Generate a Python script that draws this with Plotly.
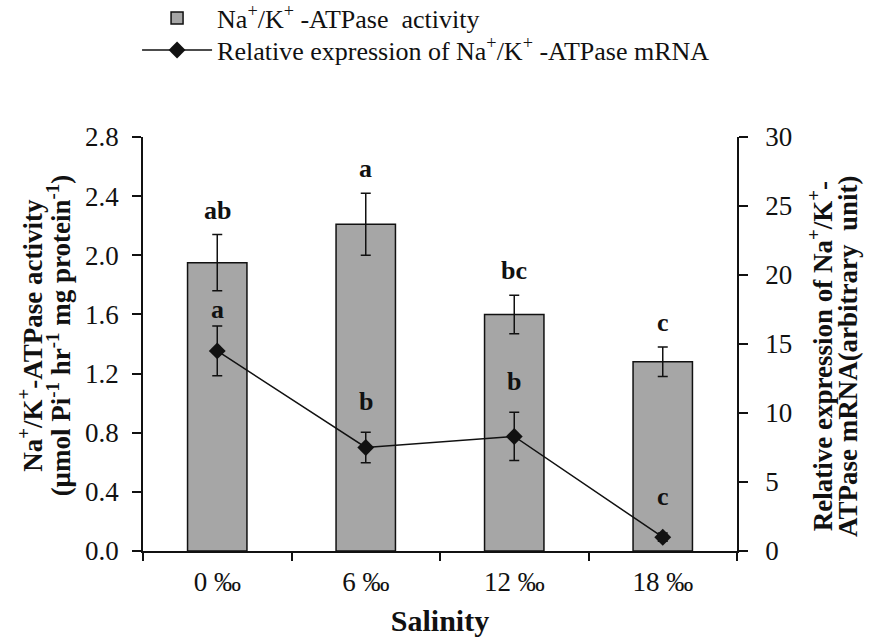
import plotly.graph_objects as go

# ---- data ----
salinity = ["0 ‰", "6 ‰", "12 ‰", "18 ‰"]
atpase_activity = [1.95, 2.21, 1.60, 1.28]
atpase_activity_err = [0.19, 0.21, 0.13, 0.10]
mrna_expression = [14.5, 7.5, 8.3, 1.0]
mrna_expression_err = [1.8, 1.1, 1.75, 0.3]
activity_letters = ["ab", "a", "bc", "c"]
mrna_letters = ["a", "b", "b", "c"]

FONT = "Liberation Serif, 'Times New Roman', Times, serif"
BLACK = "#111111"

fig = go.Figure()

fig.add_trace(go.Bar(
    x=salinity, y=atpase_activity,
    name="Na<sup>+</sup>/K<sup>+</sup> -ATPase  activity",
    marker=dict(color="#a6a6a6", line=dict(color=BLACK, width=1.5)),
    width=0.4,
    error_y=dict(type="data", array=atpase_activity_err, color=BLACK,
                 thickness=1.5, width=5),
    yaxis="y",
    legend="legend",
))

fig.add_trace(go.Scatter(
    x=salinity, y=mrna_expression,
    name="Relative expression of Na<sup>+</sup>/K<sup>+</sup> -ATPase mRNA",
    mode="lines+markers",
    line=dict(color=BLACK, width=1.5),
    marker=dict(symbol="diamond", size=13, color=BLACK),
    error_y=dict(type="data", array=mrna_expression_err, color=BLACK,
                 thickness=1.5, width=5),
    yaxis="y2",
    legend="legend2",
))

annotations = []
# significance letters above bars
for cat, v, e, t in zip(salinity, atpase_activity, atpase_activity_err, activity_letters):
    annotations.append(dict(x=cat, y=v + e, xref="x", yref="y", text=f"<b>{t}</b>",
                            showarrow=False, yanchor="bottom", yshift=8,
                            font=dict(family=FONT, size=26, color=BLACK)))
# significance letters above mRNA points
line_letter_shift = [0, 14, 14, 20]
for cat, v, e, t, s in zip(salinity, mrna_expression, mrna_expression_err, mrna_letters, line_letter_shift):
    annotations.append(dict(x=cat, y=v + e, xref="x", yref="y2", text=f"<b>{t}</b>",
                            showarrow=False, yanchor="bottom", yshift=s,
                            font=dict(family=FONT, size=26, color=BLACK)))

# axis titles (two tightly spaced lines each)
title_font = dict(family=FONT, size=27, color=BLACK)
left_lines = ["<b>Na<sup>+</sup>/K<sup>+</sup>-ATPase activity</b>",
              "<b>(μmol Pi<sup>-1</sup> hr<sup>-1</sup> mg protein<sup>-1</sup>)</b>"]
right_lines = ["<b>Relative expression of Na<sup>+</sup>/K<sup>+</sup>-</b>",
               "<b>ATPase mRNA(arbitrary  unit)</b>"]
for xp, txt in zip([-0.190, -0.142], left_lines):
    annotations.append(dict(x=xp, y=0.52, xref="paper", yref="paper", text=txt,
                            textangle=-90, showarrow=False, xanchor="center",
                            yanchor="middle", font=title_font))
for xp, txt in zip([1.141, 1.188], right_lines):
    annotations.append(dict(x=xp, y=0.47, xref="paper", yref="paper", text=txt,
                            textangle=-90, showarrow=False, xanchor="center",
                            yanchor="middle", font=title_font))

axis_common = dict(showline=True, linecolor=BLACK, linewidth=1.5,
                   ticks="outside", tickcolor=BLACK, tickwidth=1.5,
                   showgrid=False, zeroline=False,
                   tickfont=dict(family=FONT, size=27, color=BLACK))

legend_common = dict(x=-0.01, xanchor="left", yanchor="middle",
                     xref="paper", yref="paper",
                     font=dict(family=FONT, size=26, color=BLACK),
                     itemwidth=70, bgcolor="rgba(0,0,0,0)")

fig.update_layout(
    width=876, height=638,
    margin=dict(l=143, r=139, t=137, b=87, autoexpand=False),
    paper_bgcolor="white", plot_bgcolor="white",
    font=dict(family=FONT, color=BLACK),
    showlegend=True,
    legend=dict(**legend_common, y=1.287),
    legend2=dict(**legend_common, y=1.210),
    xaxis=dict(**axis_common, tickson="boundaries", ticklen=8,
               ticklabelstandoff=6,
               title=dict(text="<b>Salinity</b>",
                          font=dict(family=FONT, size=30, color=BLACK),
                          standoff=14)),
    yaxis=dict(**axis_common, range=[0, 2.8], tickvals=[0, 0.4, 0.8, 1.2, 1.6, 2.0, 2.4, 2.8],
               ticktext=["0.0", "0.4", "0.8", "1.2", "1.6", "2.0", "2.4", "2.8"],
               ticklen=9, ticklabelstandoff=8),
    yaxis2=dict(**axis_common, range=[0, 30], dtick=5, overlaying="y", side="right",
                ticklen=9, ticklabelstandoff=12),
    annotations=annotations,
)
fig.update_xaxes(range=[-0.5, 3.5])

fig.write_html("out.html")
